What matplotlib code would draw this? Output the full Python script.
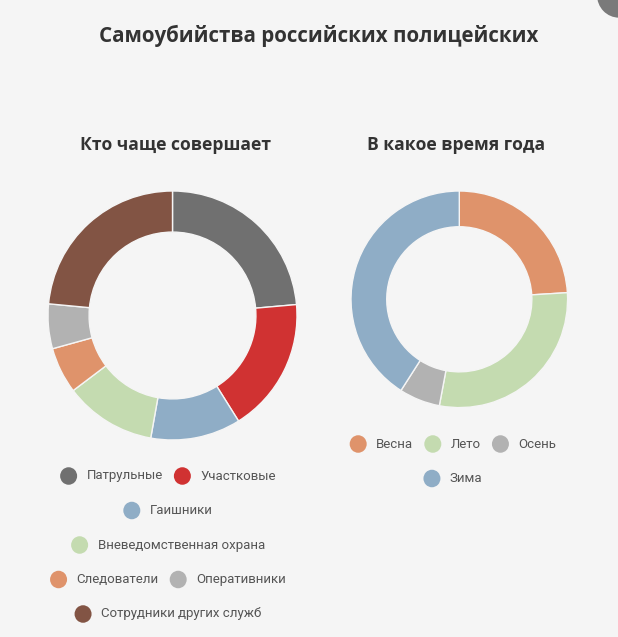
import matplotlib.pyplot as plt
from matplotlib.patches import Circle

W, H = 618, 637
BG = "#f5f5f5"

# data (shares, %)
who_labels = ["Патрульные", "Участковые", "Гаишники", "Вневедомственная охрана",
              "Следователи", "Оперативники", "Сотрудники других служб"]
who_values = [23.6, 17.5, 11.7, 11.9, 6.0, 5.8, 23.5]
who_colors = ["#707070", "#d03232", "#8fadc6", "#c4dbb0", "#df936b", "#b2b2b2", "#825444"]

season_labels = ["Весна", "Лето", "Осень", "Зима"]
season_values = [24.0, 28.9, 6.1, 40.9]
season_colors = ["#df936b", "#c4dbb0", "#b2b2b2", "#8fadc6"]

fig = plt.figure(figsize=(W / 100, H / 100), dpi=100)
fig.patch.set_facecolor(BG)


def px_axes(cx, cy, r):
    # square axes in pixel coords (top-left origin)
    return fig.add_axes([(cx - r) / W, (H - cy - r) / H, 2 * r / W, 2 * r / H])


def donut(cx, cy, r, values, colors):
    ax = px_axes(cx, cy, r)
    ax.pie(values, colors=colors, startangle=90, counterclock=False, radius=1,
           wedgeprops=dict(width=0.33, edgecolor=BG, linewidth=1.0))
    ax.set_xlim(-1, 1)
    ax.set_ylim(-1, 1)
    ax.set_facecolor("none")
    return ax


donut(172.5, 315.5, 124.5, who_values, who_colors)
donut(459.3, 299.3, 108.3, season_values, season_colors)

# titles
fig.text(319 / W, 1 - 36 / H, "Самоубийства российских полицейских", ha="center", va="center",
         fontsize=14.8, fontweight="bold", family="Open Sans", color="#333333")
fig.text(175 / W, 1 - 145 / H, "Кто чаще совершает", ha="center", va="center",
         fontsize=12.6, fontweight="bold", family="Open Sans", color="#333333")
fig.text(456 / W, 1 - 145 / H, "В какое время года", ha="center", va="center",
         fontsize=12.6, fontweight="bold", family="Open Sans", color="#333333")

# small ui button in the corner
fig.patches.append(Circle((619 / W, 1 + 5 / H), 22 / W, transform=fig.transFigure,
                          facecolor="#7a7a7a", edgecolor="none"))

fig.canvas.draw()
renderer = fig.canvas.get_renderer()

MR = 8.5      # marker radius px
TGAP = 18     # marker centre -> text
IGAP = 11     # text end -> next marker edge
ROW_H = 34.5


def legend(cx, y0, labels, colors, max_w):
    # measure labels
    items = []
    for lab, col in zip(labels, colors):
        t = fig.text(0, 0, lab, fontsize=9.5, family="Roboto", color="#555555",
                     ha="left", va="center")
        w = t.get_window_extent(renderer).width
        items.append((t, col, 2 * MR + (TGAP - MR) + w))
    rows, cur, cur_w = [], [], 0
    for it in items:
        add = it[2] if not cur else IGAP + it[2]
        if cur and cur_w + add > max_w:
            rows.append((cur, cur_w))
            cur, cur_w = [it], it[2]
        else:
            cur.append(it)
            cur_w += add
    rows.append((cur, cur_w))
    for i, (row, rw) in enumerate(rows):
        y = y0 + i * ROW_H
        x = cx - rw / 2
        for t, col, iw in row:
            fig.patches.append(Circle(((x + MR) / W, 1 - y / H), MR / W, transform=fig.transFigure,
                                      facecolor=col, edgecolor="none"))
            t.set_position(((x + MR + TGAP) / W, 1 - y / H))
            x += iw + IGAP


legend(168, 476, who_labels, who_colors, 250)
legend(453, 444, season_labels, season_colors, 250)

fig.savefig("out.png", dpi=100, facecolor=BG)
